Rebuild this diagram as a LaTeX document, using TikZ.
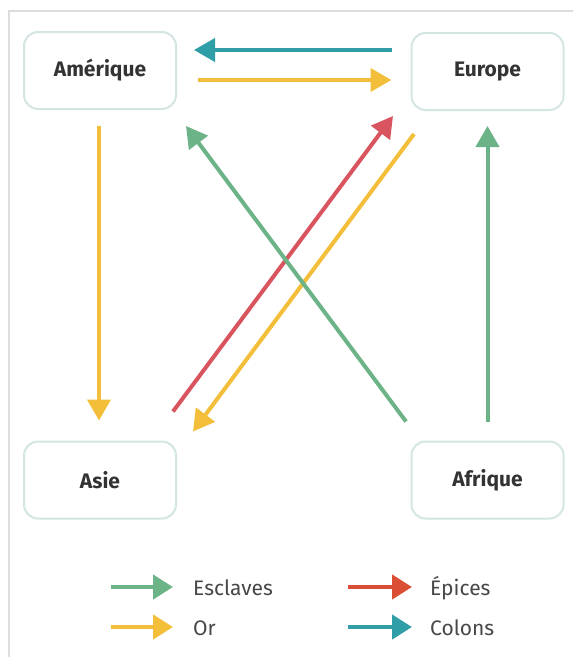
\documentclass[tikz,border=0pt]{standalone}
\usepackage{fontspec}
\setmainfont{Fira Sans}
\usetikzlibrary{arrows.meta,calc}
\definecolor{cgreen}{HTML}{6CB387}
\definecolor{cred}{HTML}{D85560}
\definecolor{clegred}{HTML}{DA4E35}
\definecolor{cyellow}{HTML}{F3BF3A}
\definecolor{cteal}{HTML}{2F9EA6}
\definecolor{cbox}{HTML}{D4E6E3}
\definecolor{ctext}{HTML}{333333}
\definecolor{cleg}{HTML}{474747}
\definecolor{cframe}{HTML}{DDDDDD}
\begin{document}
\begin{tikzpicture}[x=1pt,y=-1pt,
  region/.style={draw=cbox,line width=2pt,rounded corners=14pt,minimum width=152pt,minimum height=77pt,inner sep=0pt,font=\fontsize{21}{24}\selectfont\bfseries,text=ctext,fill=white},
  flow/.style={line width=4pt,-{Triangle[length=21pt,width=23pt]}},
  legflow/.style={line width=4.5pt,-{Triangle[length=20pt,width=24pt]}},
  legtext/.style={anchor=west,inner sep=0pt,font=\fontsize{21}{24}\selectfont,text=cleg}]
\useasboundingbox (0,0) rectangle (573,657);
\fill[white] (0,0) rectangle (573,657);
\draw[cframe,line width=1.5pt] (9,660) -- (9,11) -- (576,11);
\node[region] (ame) at (100,70.5) {Amérique};
\node[region] (eur) at (487.5,71.5) {Europe};
\node[region] (asi) at (100,480) {Asie};
\node[region] (afr) at (487.5,480) {Afrique};
% flows
\draw[flow,cteal] ($(eur.west)+(-19,-21.5)$) -- ($(ame.east)+(17,-20.5)$);
\draw[flow,cyellow] ($(ame.east)+(21,9.5)$) -- ($(eur.west)+(-19,8.5)$);
\draw[flow,cyellow] ($(ame.south)+(-1,16)$) -- ($(asi.north)+(-1,-20)$);
\draw[flow,cred] ($(asi.north)+(73,-29)$) -- ($(eur.south)+(-94.5,5)$);
\draw[flow,cyellow] ($(eur.south)+(-73.5,23)$) -- ($(asi.north)+(93,-9)$);
\draw[flow,cgreen] ($(afr.north)+(-81.5,-19)$) -- ($(ame.south)+(86,16)$);
\draw[flow,cgreen] ($(afr.north)+(0,-19)$) -- ($(eur.south)+(0,15)$);
% legend
\node[legtext] (lesc) at (193,588) {Esclaves};
\node[legtext] (lor) at (193,628) {Or};
\node[legtext] (lepi) at (430,588) {Épices};
\node[legtext] (lcol) at (430,628) {Colons};
\draw[legflow,cgreen] ($(lesc.west)+(-82,-1)$) -- ($(lesc.west)+(-20,-1)$);
\draw[legflow,cyellow] ($(lor.west)+(-82,-1)$) -- ($(lor.west)+(-20,-1)$);
\draw[legflow,clegred] ($(lepi.west)+(-82,-1)$) -- ($(lepi.west)+(-18,-1)$);
\draw[legflow,cteal] ($(lcol.west)+(-82,-1)$) -- ($(lcol.west)+(-18,-1)$);
\end{tikzpicture}
\end{document}
